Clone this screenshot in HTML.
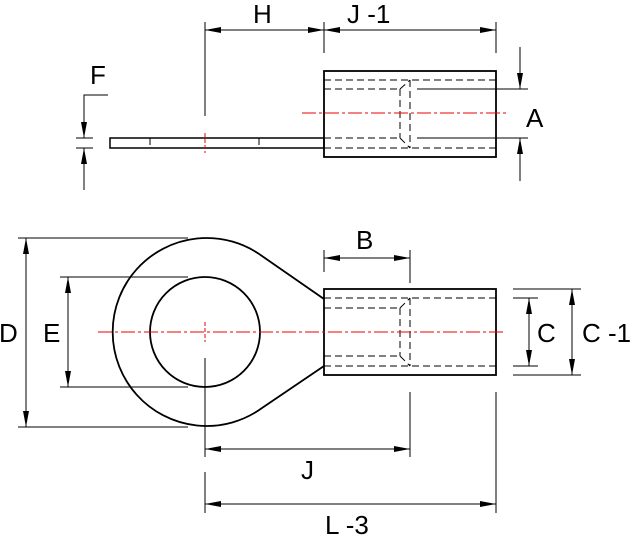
<!DOCTYPE html>
<html><head><meta charset="utf-8"><style>
html,body{margin:0;padding:0;background:#fff}
svg{display:block}
text{font-family:"Liberation Sans",sans-serif;font-size:26px;fill:#000}
</style></head><body>
<svg width="631" height="535" viewBox="0 0 631 535" xmlns="http://www.w3.org/2000/svg">
<defs>
<marker id="a" viewBox="0 0 16 6" refX="16" refY="3" markerWidth="16" markerHeight="6" markerUnits="userSpaceOnUse" orient="auto-start-reverse"><path d="M0,0 L16,3 L0,6 z" fill="#000"/></marker>
</defs>
<g fill="none" stroke="#000" stroke-width="1">
<!-- TOP VIEW -->
<rect x="324" y="71" width="172" height="86" stroke-width="1.8"/>
<rect x="110" y="138" width="214" height="10" stroke-width="1.5"/>
<g stroke-dasharray="7,4" stroke-width="1">
<line x1="324" y1="80" x2="496" y2="80"/><line x1="324" y1="148" x2="496" y2="148"/>
<line x1="324" y1="89" x2="400" y2="89"/><line x1="324" y1="138" x2="400" y2="138"/>
<line x1="400" y1="89" x2="400" y2="138"/><line x1="410" y1="80" x2="410" y2="148"/>
<line x1="400" y1="89" x2="410" y2="80"/><line x1="400" y1="138" x2="410" y2="148"/>
<line x1="150" y1="138" x2="150" y2="148"/><line x1="259" y1="138" x2="259" y2="148"/>
</g>
<line x1="302" y1="113" x2="506" y2="113" stroke="#e00" stroke-width="1" stroke-dasharray="14,3,3,3"/>
<line x1="205" y1="133" x2="205" y2="153" stroke="#e00" stroke-width="1" stroke-dasharray="4,2"/>
<line x1="417" y1="89" x2="528" y2="89"/>
<line x1="417" y1="138" x2="528" y2="138"/>
<line x1="520" y1="47" x2="520" y2="89" marker-end="url(#a)"/>
<line x1="520" y1="181" x2="520" y2="138" marker-end="url(#a)"/>
<line x1="205" y1="22" x2="205" y2="116"/>
<line x1="324" y1="22" x2="324" y2="53"/>
<line x1="496" y1="22" x2="496" y2="53"/>
<line x1="205" y1="30" x2="324" y2="30" marker-start="url(#a)" marker-end="url(#a)"/>
<line x1="324" y1="30" x2="496" y2="30" marker-start="url(#a)" marker-end="url(#a)"/>
<polyline points="108,95 84,95 84,138" marker-end="url(#a)"/>
<line x1="84" y1="190" x2="84" y2="148" marker-end="url(#a)"/>
<line x1="76" y1="138" x2="93" y2="138"/>
<line x1="76" y1="148" x2="93" y2="148"/>

<!-- BOTTOM VIEW -->
<path d="M324,299 L262,256 A94,94 0 1 0 262,408 L324,366" stroke-width="1.8"/>
<circle cx="205" cy="332" r="55" stroke-width="1.8"/>
<rect x="324" y="289" width="172" height="86" stroke-width="1.8"/>
<g stroke-dasharray="7,4" stroke-width="1">
<line x1="324" y1="298" x2="496" y2="298"/><line x1="324" y1="366" x2="496" y2="366"/>
<line x1="324" y1="308" x2="400" y2="308"/><line x1="324" y1="356" x2="400" y2="356"/>
<line x1="400" y1="308" x2="400" y2="356"/><line x1="410" y1="298" x2="410" y2="366"/>
<line x1="400" y1="308" x2="410" y2="298"/><line x1="400" y1="356" x2="410" y2="366"/>
</g>
<line x1="98" y1="332" x2="505" y2="332" stroke="#e00" stroke-width="1" stroke-dasharray="14,3,3,3"/>
<line x1="205" y1="322" x2="205" y2="342" stroke="#e00" stroke-width="1" stroke-dasharray="4,2"/>
<g stroke-width="1">
<line x1="18" y1="238" x2="188" y2="238"/><line x1="18" y1="427" x2="188" y2="427"/>
<line x1="26" y1="238" x2="26" y2="427" marker-start="url(#a)" marker-end="url(#a)"/>
<line x1="60" y1="277" x2="188" y2="277"/><line x1="60" y1="387" x2="188" y2="387"/>
<line x1="68" y1="277" x2="68" y2="387" marker-start="url(#a)" marker-end="url(#a)"/>
<line x1="324" y1="250" x2="324" y2="272"/><line x1="410" y1="250" x2="410" y2="283"/>
<line x1="324" y1="258" x2="410" y2="258" marker-start="url(#a)" marker-end="url(#a)"/>
<line x1="513" y1="298" x2="538" y2="298"/><line x1="513" y1="366" x2="538" y2="366"/>
<line x1="529" y1="298" x2="529" y2="366" marker-start="url(#a)" marker-end="url(#a)"/>
<line x1="513" y1="289" x2="581" y2="289"/><line x1="513" y1="375" x2="581" y2="375"/>
<line x1="572" y1="289" x2="572" y2="375" marker-start="url(#a)" marker-end="url(#a)"/>
<line x1="205" y1="358" x2="205" y2="457"/><line x1="205" y1="472" x2="205" y2="513"/>
<line x1="410" y1="392" x2="410" y2="457"/><line x1="496" y1="392" x2="496" y2="513"/>
<line x1="205" y1="449" x2="410" y2="449" marker-start="url(#a)" marker-end="url(#a)"/>
<line x1="205" y1="504" x2="496" y2="504" marker-start="url(#a)" marker-end="url(#a)"/>
</g>
</g>
<text x="253" y="23">H</text>
<text x="347" y="23">J -1</text>
<text x="90" y="84">F</text>
<text x="526" y="127">A</text>
<text x="356" y="249">B</text>
<text x="-1" y="342">D</text>
<text x="43" y="342">E</text>
<text x="537" y="342">C</text>
<text x="582" y="342">C -1</text>
<text x="301" y="479">J</text>
<text x="325" y="534">L -3</text>
</svg>
</body></html>
